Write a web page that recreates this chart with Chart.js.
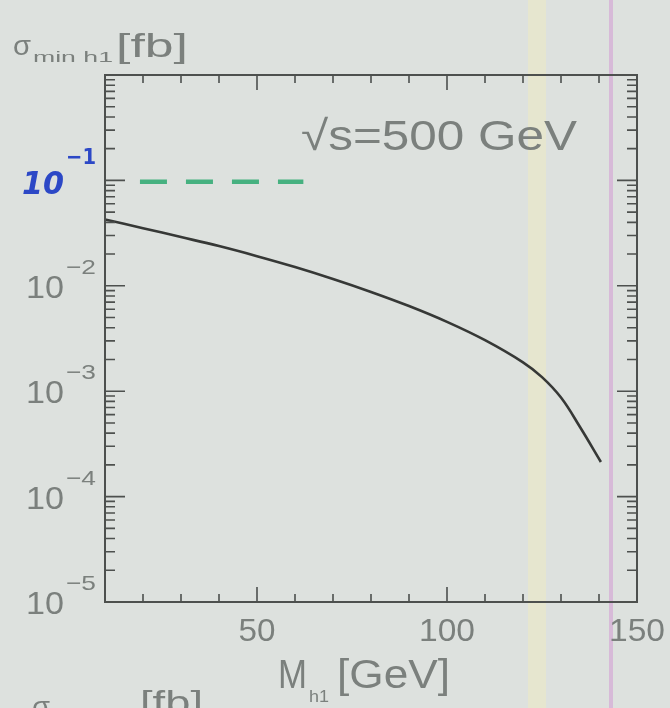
<!DOCTYPE html>
<html>
<head>
<meta charset="utf-8">
<script src="https://cdn.jsdelivr.net/npm/chart.js@4.4.1/dist/chart.umd.min.js"></script>
<style>
body { margin: 0; background: #dde1de; }
canvas { display: block; }
</style>
</head>
<body>
<canvas id="c" width="670" height="708"></canvas>
<script>
// sigma_min(h1) vs M_h1 at sqrt(s)=500 GeV
var mass = [10, 20, 30, 40, 50, 60, 70, 80, 90, 100, 110, 120, 125, 130, 135, 140.5];
var sigma = [0.0426, 0.0352, 0.0290, 0.0238, 0.0191, 0.01507, 0.01161, 0.00875, 0.00643, 0.00455, 0.00305, 0.00188, 0.00136, 0.00087, 0.000457, 0.000213];

// hand drawn green dashed mark at 10^-1
var dashMass = [19.2, 62.2];
var dashSigma = [0.097, 0.097];

var xTicks = [50, 100, 150];
var yDecades = [1e-1, 1e-2, 1e-3, 1e-4, 1e-5];
var yExp = ["\u22121", "\u22122", "\u22123", "\u22124", "\u22125"];

var FONT = "'Liberation Sans', Arial, sans-serif";
var GRAY = "#7b807d";

// draw text stretched to a width (the scan's lettering is wide)
function txt(ctx, s, x, y, size, width, opts) {
    opts = opts || {};
    ctx.save();
    ctx.font = (opts.style || "") + " " + size + "px " + (opts.font || FONT);
    ctx.fillStyle = opts.color || GRAY;
    ctx.textBaseline = "alphabetic";
    var w = ctx.measureText(s).width;
    var k = width ? width / w : 1;
    var dx = 0;
    if (opts.align == "center") dx = -w * k / 2;
    ctx.translate(x + dx, y);
    ctx.scale(k, 1);
    ctx.fillText(s, 0, 0);
    ctx.restore();
}

var paper = {
    id: "paper",
    beforeDraw: function (chart) {
        var ctx = chart.ctx;
        ctx.save();
        ctx.fillStyle = "#dde1de";
        ctx.fillRect(0, 0, 670, 708);
        ctx.fillStyle = "rgba(236,234,196,0.6)";
        ctx.fillRect(528, 0, 18, 708);
        ctx.fillStyle = "rgba(214,176,214,0.8)";
        ctx.fillRect(609, 0, 4, 708);
        ctx.restore();
    },
    afterDraw: function (chart) {
        var ctx = chart.ctx;
        var a = chart.chartArea;
        var xs = chart.scales.x, ys = chart.scales.y;
        ctx.save();
        ctx.strokeStyle = "#4d504e";
        ctx.lineWidth = 2;
        ctx.strokeRect(a.left, a.top, a.right - a.left, a.bottom - a.top);

        ctx.lineWidth = 1.6;
        ctx.beginPath();
        for (var m = 20; m < 150; m += 10) {
            var px = xs.getPixelForValue(m);
            var len = (m % 50 == 0) ? 15 : 8;
            ctx.moveTo(px, a.bottom); ctx.lineTo(px, a.bottom - len);
            ctx.moveTo(px, a.top); ctx.lineTo(px, a.top + len);
        }
        for (var e = -5; e < 0; e++) {
            for (var k = 1; k < 10; k++) {
                var v = k * Math.pow(10, e);
                var py = ys.getPixelForValue(v);
                var l = (k == 1) ? 20 : 10;
                ctx.moveTo(a.left, py); ctx.lineTo(a.left + l, py);
                ctx.moveTo(a.right, py); ctx.lineTo(a.right - l, py);
            }
        }
        ctx.stroke();
        ctx.restore();

        // tick labels
        for (var i = 0; i < xTicks.length; i++) {
            var w = xTicks[i] < 100 ? 37 : 56;
            txt(ctx, String(xTicks[i]), xs.getPixelForValue(xTicks[i]), 641, 32, w, {align: "center"});
        }
        for (var j = 0; j < yDecades.length; j++) {
            var yy = ys.getPixelForValue(yDecades[j]);
            if (j == 0) {
                txt(ctx, "10", 22, yy + 14, 32, 42, {color: "#2c48c6", style: "italic bold", font: "'DejaVu Sans', sans-serif"});
                txt(ctx, "\u22121", 66, yy - 16, 22, 30, {color: "#2c48c6", style: "bold", font: "'DejaVu Sans', sans-serif"});
            } else {
                txt(ctx, "10", 26, yy + 12, 32, 38);
                txt(ctx, yExp[j], 66, yy - 12, 21, 30);
            }
        }

        // titles
        txt(ctx, "\u03c3", 13, 55, 28, 18);
        txt(ctx, "min h1", 33, 62, 14, 80);
        txt(ctx, "[fb]", 116, 57, 34, 72);
        txt(ctx, "\u221as=500 GeV", 301, 150, 42, 276);
        txt(ctx, "M", 278, 688, 40, 29);
        txt(ctx, "h1", 309, 702, 16, 20);
        txt(ctx, "[GeV]", 337, 688, 40, 113);
        // next panel's title, cut off by the bottom edge
        txt(ctx, "\u03c3", 32, 716, 28, 18);
        txt(ctx, "[fb]", 140, 714, 34, 63);
    }
};

new Chart(document.getElementById("c"), {
    type: "line",
    data: {
        datasets: [{
            data: mass.map(function (m, i) { return {x: m, y: sigma[i]}; }),
            borderColor: "#363836",
            borderWidth: 2.6,
            pointRadius: 0,
            tension: 0.4
        }, {
            data: dashMass.map(function (m, i) { return {x: m, y: dashSigma[i]}; }),
            borderColor: "rgba(44,168,112,0.85)",
            borderWidth: 4.5,
            borderDash: [27, 19],
            pointRadius: 0
        }]
    },
    options: {
        responsive: false,
        animation: false,
        layout: {padding: {left: 105, right: 33, top: 75, bottom: 106}},
        plugins: {legend: {display: false}, tooltip: {enabled: false}},
        scales: {
            x: {type: "linear", min: 10, max: 150, display: false},
            y: {type: "logarithmic", min: 1e-5, max: 1, display: false}
        }
    },
    plugins: [paper]
});
</script>
</body>
</html>
